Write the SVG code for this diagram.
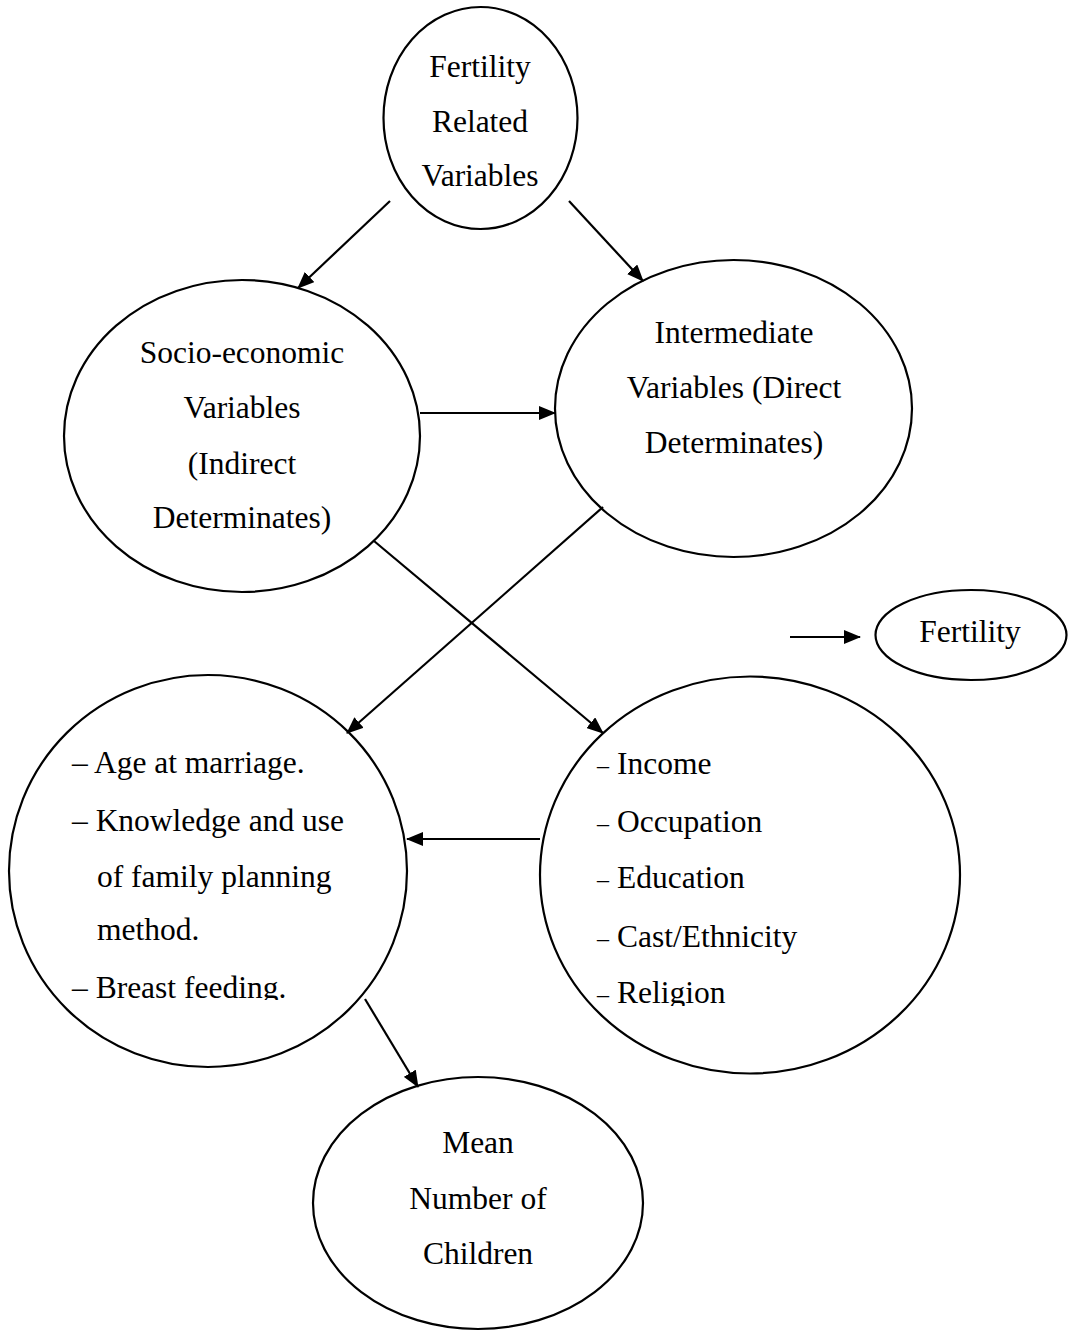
<svg xmlns="http://www.w3.org/2000/svg" width="1068" height="1332" viewBox="0 0 1068 1332">
<style>
.node ellipse{fill:#fff;stroke:#000;stroke-width:2.2}
text{font-family:"Liberation Serif","Times New Roman",serif;font-size:31.5px;fill:#000}
.c{text-anchor:middle}
.conn line{stroke:#000;stroke-width:2.2}
.dash{font-size:24px}
</style>
<defs>
<marker id="ah" markerUnits="userSpaceOnUse" markerWidth="17" markerHeight="14" refX="16" refY="7" orient="auto">
<path d="M0,0 L17,7 L0,14 z" fill="#000"/>
</marker>
<clipPath id="clipL"><rect x="0" y="660" width="420" height="340"/></clipPath>
<clipPath id="clipR"><rect x="530" y="660" width="440" height="346"/></clipPath>
</defs>
<rect width="1068" height="1332" fill="#fff"/>
<g id="n-fertility-related" class="node">
<ellipse cx="480.5" cy="118" rx="97" ry="111"/>
<text class="c" x="480" y="77">Fertility</text>
<text class="c" x="480" y="132">Related</text>
<text class="c" x="480" y="186">Variables</text>
</g>
<g id="n-socio" class="node">
<ellipse cx="242" cy="436" rx="178" ry="156"/>
<text class="c" x="242" y="363">Socio-economic</text>
<text class="c" x="242" y="418">Variables</text>
<text class="c" x="242" y="474">(Indirect</text>
<text class="c" x="242" y="528">Determinates)</text>
</g>
<g id="n-intermediate" class="node">
<ellipse cx="733.5" cy="408.5" rx="178.5" ry="148.5"/>
<text class="c" x="734" y="343">Intermediate</text>
<text class="c" x="734" y="398">Variables (Direct</text>
<text class="c" x="734" y="453">Determinates)</text>
</g>
<g id="n-fertility" class="node">
<ellipse cx="971" cy="635" rx="95.5" ry="45"/>
<text class="c" x="970" y="642">Fertility</text>
</g>
<g id="n-intermediate-list" class="node">
<ellipse cx="208" cy="871" rx="199" ry="196"/>
<g clip-path="url(#clipL)">
<text x="72" y="773">– Age at marriage.</text>
<text x="72" y="831">– Knowledge and use</text>
<text x="97" y="887">of family planning</text>
<text x="97" y="940">method.</text>
<text x="72" y="998">– Breast feeding.</text>
</g>
</g>
<g id="n-socio-list" class="node">
<ellipse cx="750" cy="875" rx="210" ry="198.5"/>
<g clip-path="url(#clipR)">
<text class="dash" x="597" y="773">–</text><text x="617" y="774">Income</text>
<text class="dash" x="597" y="831">–</text><text x="617" y="832">Occupation</text>
<text class="dash" x="597" y="887">–</text><text x="617" y="888">Education</text>
<text class="dash" x="597" y="946">–</text><text x="617" y="947">Cast/Ethnicity</text>
<text class="dash" x="597" y="1002">–</text><text x="617" y="1003">Religion</text>
</g>
</g>
<g id="n-mean-children" class="node">
<ellipse cx="478" cy="1203" rx="165" ry="126"/>
<text class="c" x="478" y="1153">Mean</text>
<text class="c" x="478" y="1209">Number of</text>
<text class="c" x="478" y="1264">Children</text>
</g>
<g id="connectors" class="conn">
<line x1="390" y1="201" x2="298" y2="288" marker-end="url(#ah)"/>
<line x1="569" y1="201" x2="643" y2="281" marker-end="url(#ah)"/>
<line x1="420" y1="413" x2="555" y2="413" marker-end="url(#ah)"/>
<line x1="603" y1="507" x2="347" y2="733" marker-end="url(#ah)"/>
<line x1="374" y1="541" x2="603" y2="733" marker-end="url(#ah)"/>
<line x1="540" y1="839" x2="407" y2="839" marker-end="url(#ah)"/>
<line x1="365" y1="999" x2="418" y2="1087" marker-end="url(#ah)"/>
<line x1="790" y1="637" x2="860" y2="637" marker-end="url(#ah)"/>
</g>
</svg>
